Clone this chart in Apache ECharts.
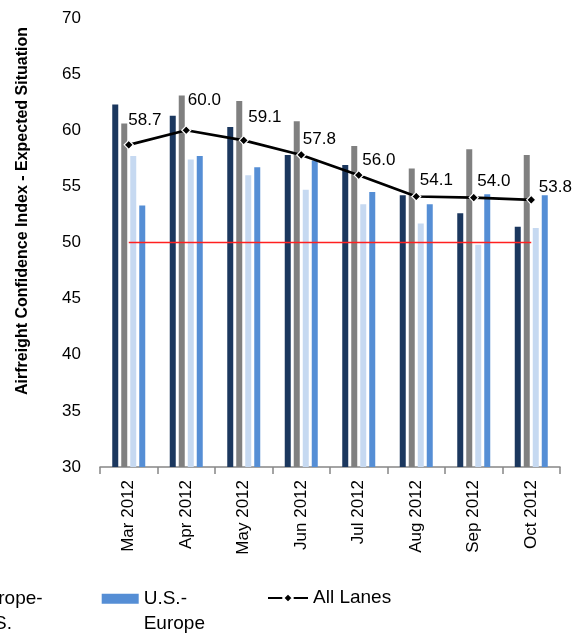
<!DOCTYPE html>
<html>
<head>
<meta charset="utf-8">
<script src="https://cdn.jsdelivr.net/npm/echarts@6/dist/echarts.min.js"></script>
<style>
  html, body { margin: 0; padding: 0; background: #fff; }
  #chart { width: 581px; height: 635px; }
</style>
</head>
<body>
<div id="chart"></div>
<script>
// Monthly airfreight confidence (expected situation) by trade lane
const months = ['Mar 2012', 'Apr 2012', 'May 2012', 'Jun 2012', 'Jul 2012', 'Aug 2012', 'Sep 2012', 'Oct 2012'];
const asiaEurope = [62.3, 61.3, 60.3, 57.8, 56.9, 54.2, 52.6, 51.4];
const europeAsia = [60.6, 63.1, 62.6, 60.8, 58.6, 56.6, 58.3, 57.8];
const europeUS = [57.7, 57.4, 56.0, 54.7, 53.4, 51.7, 49.8, 51.3];
const usEurope = [53.3, 57.7, 56.7, 57.3, 54.5, 53.4, 54.3, 54.2];
const allLanes = [58.7, 60.0, 59.1, 57.8, 56.0, 54.1, 54.0, 53.8];
const neutral = [50, 50, 50, 50, 50, 50, 50, 50];
const yMin = 30, yMax = 70, yStep = 5;

// Hand-placed label nudges for the All Lanes values: [dx, lift] in px
const labelNudge = [[-1, 25], [1, 30], [4, 23], [1, 16], [3, 14.5], [3, 16], [3, 16], [7, 13]];

const FONT = "'Liberation Sans', Arial, sans-serif";
const chart = echarts.init(document.getElementById('chart'), null, { renderer: 'canvas' });

const barCommon = { type: 'bar', barWidth: 6, barGap: '50%' };

// Lane names wrap after the hyphen; a blank leading line keeps the
// first text line level with the swatch.
function barLegend(name, left) {
  return {
    data: [name], left: left, top: 560.5, padding: 0, orient: 'horizontal',
    icon: 'rect', itemWidth: 37, itemHeight: 10,
    formatter: n => '\n' + n.replace('-', '-\n'),
    textStyle: { fontFamily: FONT, fontSize: 19, color: '#000', lineHeight: 25.5 }
  };
}

const option = {
  animation: false,
  backgroundColor: '#fff',
  grid: { left: 100, right: 21, top: 18, bottom: 168, containLabel: false },
  xAxis: {
    type: 'category',
    data: months,
    axisLine: { lineStyle: { color: '#868686', width: 1.5 } },
    axisTick: { show: true, length: 7, lineStyle: { color: '#868686', width: 1.5 } },
    axisLabel: { rotate: 90, margin: 13, fontFamily: FONT, fontSize: 17, color: '#000' }
  },
  yAxis: {
    type: 'value', min: yMin, max: yMax, interval: yStep,
    axisLine: { show: false }, axisTick: { show: false }, splitLine: { show: false },
    axisLabel: { margin: 19, fontFamily: FONT, fontSize: 17, color: '#000' }
  },
  legend: [
    barLegend('Asia-Europe', -401),
    barLegend('Europe-Asia', -234),
    barLegend('Europe-U.S.', -67),
    barLegend('U.S.-Europe', 101.7),
    {
      data: ['All Lanes'], left: 267, top: 585.5, padding: 0,
      itemWidth: 40, itemHeight: 12,
      textStyle: { fontFamily: FONT, fontSize: 19, color: '#000', lineHeight: 25 }
    }
  ],
  graphic: [{
    type: 'text',
    x: 22.5, y: 211,
    rotation: Math.PI / 2,
    style: {
      text: 'Airfreight Confidence Index - Expected Situation',
      fontFamily: FONT, fontSize: 16, fontWeight: 'bold', fill: '#000',
      align: 'center', verticalAlign: 'middle'
    }
  }],
  series: [
    Object.assign({ name: 'Asia-Europe', data: asiaEurope, itemStyle: { color: '#1B375E' } }, barCommon),
    Object.assign({ name: 'Europe-Asia', data: europeAsia, itemStyle: { color: '#808080' } }, barCommon),
    Object.assign({ name: 'Europe-U.S.', data: europeUS, itemStyle: { color: '#C6D9F1' } }, barCommon),
    Object.assign({ name: 'U.S.-Europe', data: usEurope, itemStyle: { color: '#558ED5' } }, barCommon),
    {
      name: 'Neutral', type: 'line', data: neutral, symbol: 'none', silent: true,
      lineStyle: { color: '#FF2020', width: 1.5 }, z: 3
    },
    {
      name: 'All Lanes', type: 'line',
      data: allLanes.map((v, i) => ({
        value: v,
        label: { offset: [labelNudge[i][0] - 4.5, -labelNudge[i][1]] }
      })),
      symbol: 'diamond', symbolSize: 9,
      lineStyle: { color: '#000', width: 2.7 },
      itemStyle: { color: '#000', borderColor: '#fff', borderWidth: 1.2 },
      label: {
        show: true, position: 'right', distance: 0,
        fontFamily: FONT, fontSize: 17, color: '#000',
        formatter: p => p.value.toFixed(1)
      },
      z: 5
    }
  ]
};

chart.setOption(option);
</script>
</body>
</html>
